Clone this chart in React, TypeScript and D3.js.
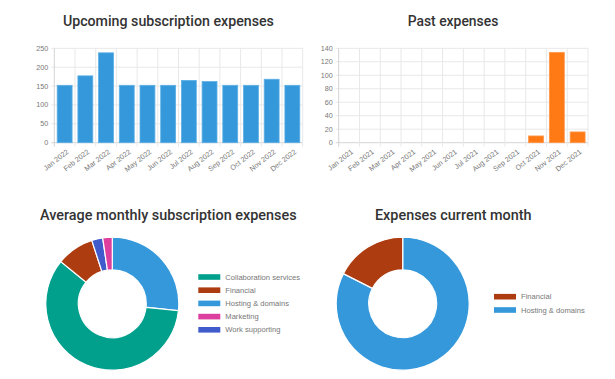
import React from "react";
import * as d3 from "d3";

const upcomingMonths = ["Jan 2022","Feb 2022","Mar 2022","Apr 2022","May 2022","Jun 2022","Jul 2022","Aug 2022","Sep 2022","Oct 2022","Nov 2022","Dec 2022"];
const upcomingValues = [152, 177, 238, 152, 152, 152, 165, 162, 152, 152, 168, 152];
const upcomingTicks = [0, 50, 100, 150, 200, 250];

const pastMonths = ["Jan 2021","Feb 2021","Mar 2021","Apr 2021","May 2021","Jun 2021","Jul 2021","Aug 2021","Sep 2021","Oct 2021","Nov 2021","Dec 2021"];
const pastValues = [0, 0, 0, 0, 0, 0, 0, 0, 0, 10, 134, 16];
const pastTicks = [0, 20, 40, 60, 80, 100, 120, 140];

// draw order (clockwise from top)
const avgCategories = ["Hosting & domains", "Collaboration services", "Financial", "Work supporting", "Marketing"];
const avgValues = [42.8, 95.0, 14.6, 4.3, 3.7];
const avgLegend = ["Collaboration services", "Financial", "Hosting & domains", "Marketing", "Work supporting"];

const curCategories = ["Hosting & domains", "Financial"];
const curValues = [13.4, 2.85];
const curLegend = ["Financial", "Hosting & domains"];

const colors: Record<string, string> = {
  "Collaboration services": "#00a08c",
  "Financial": "#ad3c11",
  "Hosting & domains": "#3498db",
  "Marketing": "#dd3f9e",
  "Work supporting": "#3f5bcc",
};

const TICK_FONT = "'Liberation Sans', Arial, sans-serif";
const TITLE_FONT = "Roboto, 'Noto Sans', sans-serif";

function Title({ x, y, text, len }: { x: number; y: number; text: string; len: number }) {
  return (
    <text x={x} y={y} textAnchor="middle" fontFamily={TITLE_FONT} fontWeight={500} fontSize={15}
      fill="#333" textLength={len} lengthAdjust="spacingAndGlyphs">{text}</text>
  );
}

function BarChart({ months, values, ticks, x0, x1, y0, y1, color, border }: any) {
  const x = d3.scaleBand().domain(months).range([x0, x1]);
  const y = d3.scaleLinear().domain([0, ticks[ticks.length - 1]]).range([y1, y0]);
  const bw = x.bandwidth();
  const barW = bw * 0.72;
  return (
    <g>
      {ticks.map((t: number) => (
        <g key={t}>
          <line x1={x0 - 3} x2={x1} y1={y(t)} y2={y(t)} stroke={t === 0 ? "#d4d4d4" : "#e8e8e8"} strokeWidth={1} />
          <text x={x0 - 6} y={y(t)} dy="0.35em" textAnchor="end" fontFamily={TICK_FONT} fontSize={7.2} fill="#777">{t}</text>
        </g>
      ))}
      {months.map((m: string, i: number) => (
        <line key={"v" + m} x1={x(m)!} x2={x(m)!} y1={y0} y2={y1 + 4} stroke={i === 0 ? "#d4d4d4" : "#e8e8e8"} strokeWidth={1} />
      ))}
      <line x1={x1} x2={x1} y1={y0} y2={y1 + 4} stroke="#e8e8e8" strokeWidth={1} />
      {months.map((m: string, i: number) => {
        const v = values[i];
        if (!v) return null;
        const cx = x(m)! + bw / 2;
        return (
          <rect key={"b" + m} x={cx - barW / 2} y={y(v)} width={barW} height={y(0) - y(v)}
            fill={color} stroke={border} strokeWidth={0.8} />
        );
      })}
      {months.map((m: string) => {
        const cx = x(m)! + bw / 2;
        return (
          <text key={"l" + m} transform={`translate(${cx + 3},${y1 + 8}) rotate(-38)`} textAnchor="end"
            dy="0.35em" fontFamily={TICK_FONT} fontSize={7.2} fill="#777">{m}</text>
        );
      })}
    </g>
  );
}

function Donut({ cats, values, cx, cy, r }: any) {
  const pie = d3.pie<number>().sort(null).startAngle(0).endAngle(2 * Math.PI);
  const arcs = pie(values);
  const arc = d3.arc<d3.PieArcDatum<number>>().innerRadius(r * 0.51).outerRadius(r);
  return (
    <g transform={`translate(${cx},${cy})`}>
      {arcs.map((a, i) => (
        <path key={cats[i]} d={arc(a)!} fill={colors[cats[i]]} stroke="#fff" strokeWidth={1.2} />
      ))}
    </g>
  );
}

function Legend({ items, x, y, step }: any) {
  return (
    <g>
      {items.map((it: string, i: number) => (
        <g key={it} transform={`translate(${x},${y + i * step})`}>
          <rect x={0} y={-2.8} width={22} height={5.6} fill={colors[it]} />
          <text x={27} y={0} dy="0.35em" fontFamily={TICK_FONT} fontSize={7.6} fill="#777">{it}</text>
        </g>
      ))}
    </g>
  );
}

export default function App() {
  return (
    <svg width={615} height={379} style={{ position: "absolute", left: 0, top: 0, background: "#fff" }}>
      <Title x={168.4} y={26} text="Upcoming subscription expenses" len={211} />
      <BarChart months={upcomingMonths} values={upcomingValues} ticks={upcomingTicks}
        x0={54.3} x1={302.7} y0={48.3} y1={142.7} color="#3498db" border="#5cb0e6" />
      <Title x={453} y={26} text="Past expenses" len={90.6} />
      <BarChart months={pastMonths} values={pastValues} ticks={pastTicks}
        x0={338.7} x1={588} y0={48.3} y1={142.7} color="#ff7a14" border="#ff9a50" />
      <Title x={168.3} y={220} text="Average monthly subscription expenses" len={256.7} />
      <Donut cats={avgCategories} values={avgValues} cx={112.3} cy={303.7} r={66.5} />
      <Legend items={avgLegend} x={198.3} y={277} step={13.2} />
      <Title x={453.3} y={220} text="Expenses current month" len={156.7} />
      <Donut cats={curCategories} values={curValues} cx={402.7} cy={303.7} r={66.5} />
      <Legend items={curLegend} x={494} y={296.7} step={13.3} />
    </svg>
  );
}
